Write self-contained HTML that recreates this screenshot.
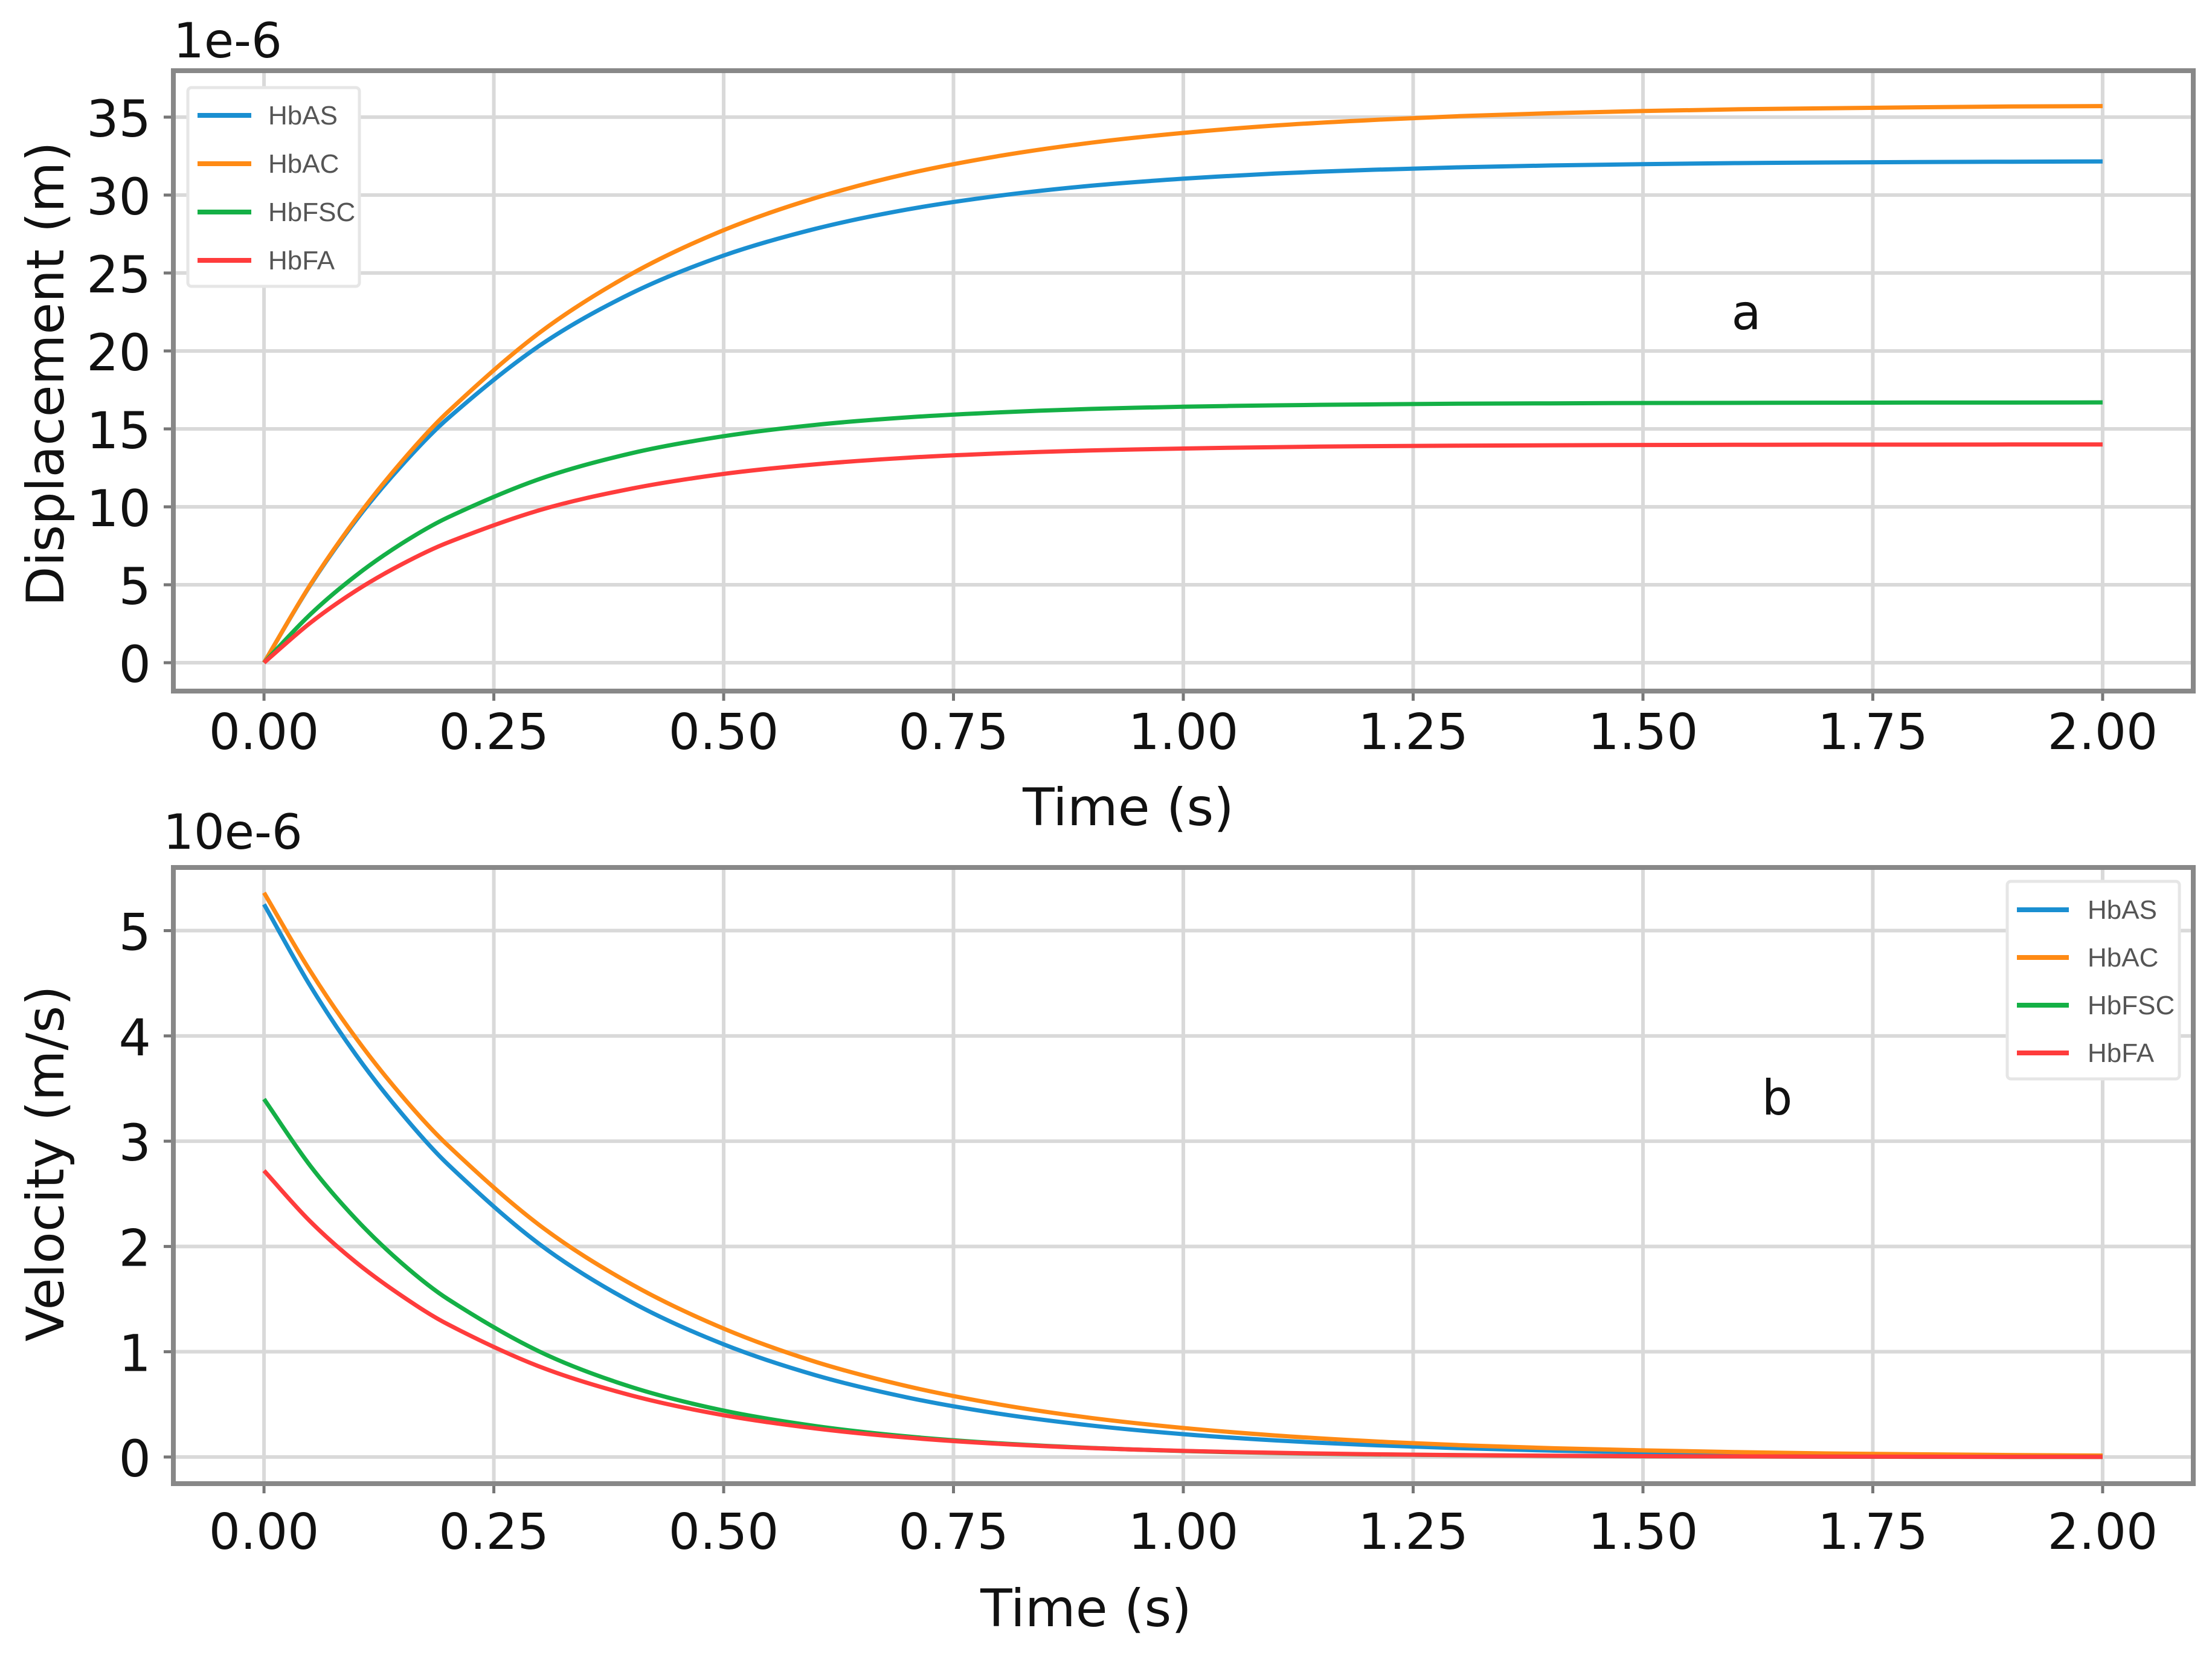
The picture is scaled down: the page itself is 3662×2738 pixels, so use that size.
<!DOCTYPE html>
<html><head><meta charset="utf-8">
<style>
html,body{margin:0;padding:0;background:#fff;}
svg{display:block;font-family:"DejaVu Sans","Liberation Sans",sans-serif;}
</style></head>
<body>
<svg id="chart" width="3662" height="2738" viewBox="0 0 3662 2738" xmlns="http://www.w3.org/2000/svg"></svg>
<script>
const times = [0,0.05,0.1,0.15,0.2,0.3,0.4,0.5,0.6,0.7,0.8,0.9,1.0,1.1,1.2,1.3,1.4,1.5,1.6,1.7,1.8,1.9,2.0];
const seriesNames = ["HbAS","HbAC","HbFSC","HbFA"];
const seriesColors = ["#1a8fd1","#ff8a14","#14b046","#ff3c3c"];
const dispHbAS = [0,4.94,9.13,12.67,15.67,20.35,23.71,26.12,27.84,29.08,29.96,30.60,31.05,31.38,31.61,31.78,31.90,31.98,32.05,32.09,32.12,32.14,32.16];
const dispHbAC = [0,4.97,9.24,12.92,16.09,21.18,24.95,27.75,29.82,31.37,32.51,33.36,33.99,34.46,34.80,35.06,35.25,35.39,35.50,35.57,35.63,35.68,35.71];
const dispHbFSC = [0,3.08,5.59,7.65,9.32,11.79,13.44,14.53,15.26,15.74,16.06,16.28,16.42,16.51,16.57,16.62,16.64,16.66,16.67,16.68,16.69,16.69,16.70];
const dispHbFA = [0,2.54,4.62,6.32,7.71,9.79,11.17,12.11,12.73,13.15,13.43,13.62,13.74,13.83,13.89,13.92,13.95,13.97,13.98,13.99,13.99,14.0,14.0];
const velHbAS = [5.25,4.48,3.82,3.26,2.78,2.02,1.47,1.07,0.777,0.565,0.411,0.299,0.217,0.158,0.115,0.084,0.061,0.044,0.032,0.023,0.017,0.012,0.009];
const velHbAC = [5.36,4.62,3.98,3.43,2.96,2.20,1.64,1.22,0.904,0.672,0.499,0.371,0.276,0.205,0.152,0.113,0.084,0.063,0.047,0.034,0.026,0.019,0.014];
const velHbFSC = [3.40,2.77,2.26,1.84,1.50,1.00,0.664,0.441,0.294,0.195,0.130,0.086,0.057,0.038,0.025,0.017,0.011,0.007,0.005,0.003,0.002,0.001,0.001];
const velHbFA = [2.72,2.24,1.85,1.53,1.26,0.858,0.584,0.397,0.271,0.184,0.125,0.085,0.058,0.040,0.027,0.018,0.012,0.008,0.006,0.004,0.003,0.002,0.001];
const xTicks = [0,0.25,0.5,0.75,1.0,1.25,1.5,1.75,2.0];
const xTickLabels = ["0.00","0.25","0.50","0.75","1.00","1.25","1.50","1.75","2.00"];
const dispTicks = [0,5,10,15,20,25,30,35];
const velTicks = [0,1,2,3,4,5];

const NS="http://www.w3.org/2000/svg";
const svg=document.getElementById('chart');
function mk(tag,attrs,parent,text){const e=document.createElementNS(NS,tag);for(const k in attrs)e.setAttribute(k,attrs[k]);if(text!==undefined)e.textContent=text;(parent||svg).appendChild(e);return e;}

function smoothPath(pts){
  let d='M'+pts[0][0].toFixed(1)+','+pts[0][1].toFixed(1);
  for(let i=0;i<pts.length-1;i++){
    const p0=pts[Math.max(0,i-1)],p1=pts[i],p2=pts[i+1],p3=pts[Math.min(pts.length-1,i+2)];
    const h=p2[0]-p1[0];
    const m1=(p2[1]-p0[1])/((p2[0]-p0[0])||1), m2=(p3[1]-p1[1])/((p3[0]-p1[0])||1);
    const c1=[p1[0]+h/3,p1[1]+m1*h/3];
    const c2=[p2[0]-h/3,p2[1]-m2*h/3];
    d+=' C'+c1[0].toFixed(1)+','+c1[1].toFixed(1)+' '+c2[0].toFixed(1)+','+c2[1].toFixed(1)+' '+p2[0].toFixed(1)+','+p2[1].toFixed(1);
  }
  return d;
}

function panel(cfg){
  const g=mk('g',{});
  
  
  const L=287,R=3631,T=cfg.top,B=cfg.bottom;
  const xs=v=>L+(v-(-0.0986))/(2.0986-(-0.0986))*(R-L);
  const ys=v=>B-(v-cfg.ymin)/(cfg.ymax-cfg.ymin)*(B-T);
  mk('rect',{x:L,y:T,width:R-L,height:B-T,fill:'#fff'},g);
  xTicks.forEach((t,i)=>{
    const x=xs(t);
    const gl=mk('line',{x1:x,x2:x,y1:T,y2:B,stroke:'#d9d9d9','stroke-width':6},g);
    
    
    mk('line',{x1:x,x2:x,y1:B,y2:B+16,stroke:'#777','stroke-width':5},g);
    const tl=mk('text',{x:x,y:cfg.xTickY,'font-size':82,'text-anchor':'middle',fill:'#111'},g,xTickLabels[i]);
    
    
  });
  cfg.yTicks.forEach(t=>{
    const y=ys(t);
    const gl=mk('line',{x1:L,x2:R,y1:y,y2:y,stroke:'#d9d9d9','stroke-width':6},g);
    
    
    mk('line',{x1:L-16,x2:L,y1:y,y2:y,stroke:'#777','stroke-width':5},g);
    const tl=mk('text',{x:250,y:y+32,'font-size':84,'text-anchor':'end',fill:'#111'},g,String(t));
    
    
  });
  cfg.series.forEach((vals,si)=>{
    const pts=times.map((t,i)=>[xs(t),ys(vals[i])]);
    const p=mk('path',{d:smoothPath(pts),fill:'none',stroke:seriesColors[si],'stroke-width':7,'stroke-linejoin':'round'},g);
    
    
  });
  mk('rect',{x:L,y:T,width:R-L,height:B-T,fill:'none',stroke:'#888','stroke-width':8},g);
  const lg=mk('g',{},g);
  
  
  const lc=cfg.legend;
  mk('rect',{x:lc.x,y:lc.y,width:lc.w,height:lc.h,fill:'#fff',stroke:'#e6e6e6','stroke-width':5,rx:6},lg);
  seriesNames.forEach((n,i)=>{
    const y=lc.y0+i*lc.dy;
    const e=mk('g',{},lg);
    
    
    mk('line',{x1:lc.lx1,x2:lc.lx2,y1:y,y2:y,stroke:seriesColors[i],'stroke-width':8},e);
    mk('text',{x:lc.tx,y:y+15,'font-size':44,fill:'#555','font-family':'"Liberation Sans",sans-serif'},e,n);
  });
  const yl=mk('text',{x:0,y:0,'font-size':86,'text-anchor':'middle',fill:'#111',transform:'translate('+cfg.ylabX+','+cfg.ylabY+') rotate(-90)'},g,cfg.ylabel);
  
  
  const xl=mk('text',{x:cfg.xlabX,y:cfg.xlabY,'font-size':86,'text-anchor':'middle',fill:'#111'},g,'Time (s)');
  
  
  const off=mk('text',{x:cfg.offX,y:cfg.offY,'font-size':80,fill:'#111'},g,cfg.offset);
  
  
  const pl=mk('text',{x:cfg.pX,y:cfg.pY,'font-size':80,'text-anchor':'middle',fill:'#111'},g,cfg.pLabel);
  
  
}

panel({name:'displacement-panel',top:117,bottom:1144,ymin:-1.82,ymax:37.98,yTicks:dispTicks,
  series:[dispHbAS,dispHbAC,dispHbFSC,dispHbFA],xTickY:1240,
  legend:{x:311,y:145,w:284,h:329,y0:191,dy:80,lx1:327,lx2:416,tx:444},
  ylabel:'Displacement (m)',ylabX:105,ylabY:619,xlabX:1868,xlabY:1366,offset:'1e-6',offX:287,offY:95,pLabel:'a',pX:2891,pY:545});

panel({name:'velocity-panel',top:1436,bottom:2456,ymin:-0.253,ymax:5.60,yTicks:velTicks,
  series:[velHbAS,velHbAC,velHbFSC,velHbFA],xTickY:2564,
  legend:{x:3323,y:1459,w:285,h:327,y0:1506,dy:79,lx1:3339,lx2:3425,tx:3456},
  ylabel:'Velocity (m/s)',ylabX:105,ylabY:1926,xlabX:1798,xlabY:2692,offset:'10e-6',offX:270,offY:1405,pLabel:'b',pX:2942,pY:1845});
</script>
</body></html>
